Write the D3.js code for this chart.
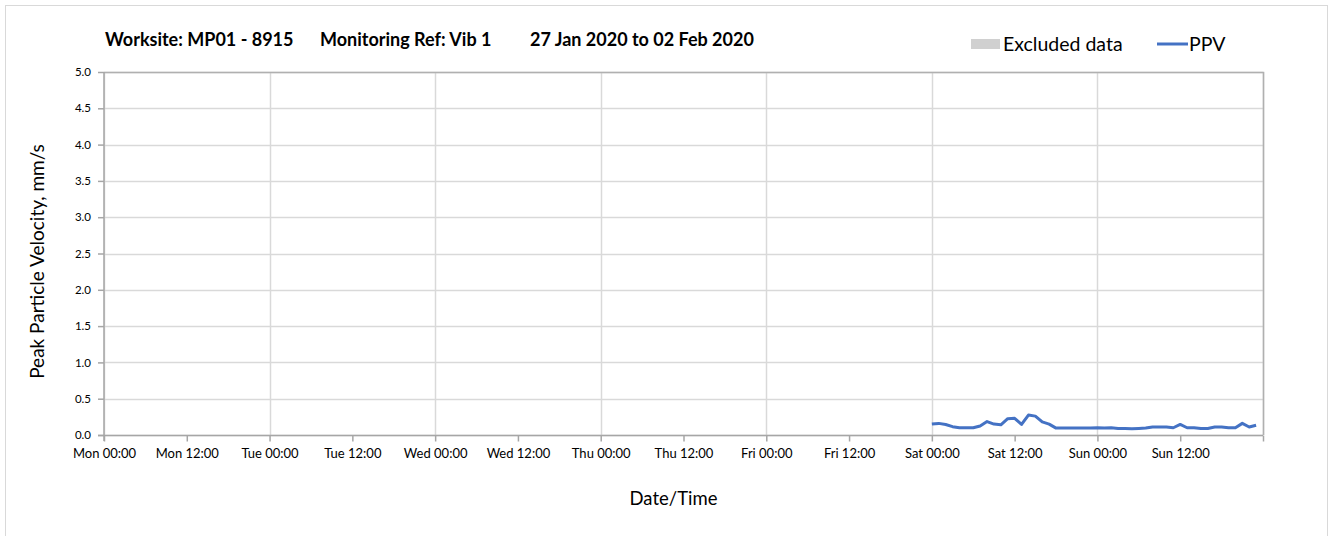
<!DOCTYPE html>
<html>
<head>
<meta charset="utf-8">
<script src="https://cdn.jsdelivr.net/npm/d3@7"></script>
<style>
  body { margin: 0; background: #fff; }
  text { font-family: Lato, "Open Sans", sans-serif; fill: #000; }
</style>
</head>
<body>
<div id="chart"></div>
<script>
// --- Data ---
const titleParts = ["Worksite: MP01 - 8915", "Monitoring Ref: Vib 1", "27 Jan 2020 to 02 Feb 2020"];
const dayNames = ["Mon", "Tue", "Wed", "Thu", "Fri", "Sat", "Sun"];
const yTicks = [0, 0.5, 1, 1.5, 2, 2.5, 3, 3.5, 4, 4.5, 5];
// hourly PPV readings from Sat 00:00 (hours since Mon 00:00 = 120)
const ppvStartHour = 120;
const ppvValues = [
  0.15, 0.16, 0.145, 0.115, 0.10, 0.10, 0.10, 0.125, 0.185, 0.15, 0.14, 0.225,
  0.23, 0.145, 0.275, 0.26, 0.18, 0.15, 0.095, 0.095, 0.095, 0.095, 0.095, 0.095,
  0.10, 0.095, 0.10, 0.09, 0.09, 0.085, 0.09, 0.095, 0.11, 0.11, 0.11, 0.10,
  0.145, 0.10, 0.10, 0.09, 0.09, 0.11, 0.11, 0.10, 0.10, 0.16, 0.11, 0.135
];

const width = 1333, height = 536;
const margin = { left: 104, right: 70, top: 72, bottom: 101 };

const svg = d3.select("#chart").append("svg")
  .attr("width", width)
  .attr("height", height);

// outer frame
svg.append("rect")
  .attr("x", 5.5).attr("y", 5.5)
  .attr("width", 1322).attr("height", 540)
  .attr("fill", "#fff").attr("stroke", "#d9d9d9");

const x = d3.scaleLinear().domain([0, 168]).range([margin.left, width - margin.right]);
const y = d3.scaleLinear().domain([0, 5]).range([height - margin.bottom, margin.top]);

// --- Gridlines ---
const dayHours = d3.range(0, 169, 24);
svg.append("g").selectAll("line.v")
  .data(dayHours)
  .join("line")
  .attr("x1", d => Math.round(x(d)) + 0.5).attr("x2", d => Math.round(x(d)) + 0.5)
  .attr("y1", y(5)).attr("y2", y(0))
  .attr("stroke", "#d9d9d9").attr("stroke-width", 1.5);

svg.append("g").selectAll("line.h")
  .data(yTicks)
  .join("line")
  .attr("x1", x(0)).attr("x2", x(168))
  .attr("y1", d => Math.round(y(d)) + 0.5).attr("y2", d => Math.round(y(d)) + 0.5)
  .attr("stroke", "#d9d9d9").attr("stroke-width", 1.5);

// plot border top/right
svg.append("path")
  .attr("d", `M${x(0)},${Math.round(y(5)) + 0.5}H${Math.round(x(168)) + 0.5}V${y(0)}`)
  .attr("fill", "none").attr("stroke", "#b0b0b0").attr("stroke-width", 1.5);

// --- Axes ---
const xAxis = d3.axisBottom(x)
  .tickValues(d3.range(0, 169, 12))
  .tickSize(6)
  .tickPadding(5)
  .tickFormat(d => d >= 168 ? "" : `${dayNames[Math.floor(d / 24)]} ${d % 24 === 0 ? "00" : "12"}:00`);

const gx = svg.append("g")
  .attr("transform", `translate(0,${Math.round(y(0)) + 0.5})`)
  .call(xAxis);
gx.select(".domain").attr("stroke", "#a6a6a6").attr("stroke-width", 1.5).attr("d", `M${x(0) - 6},0H${x(168)}`);
gx.selectAll(".tick line").attr("stroke", "#a6a6a6").attr("stroke-width", 1.5);
gx.selectAll(".tick text").attr("font-size", 13).attr("fill", "#000").attr("dy", "0.85em");

const yAxis = d3.axisLeft(y)
  .tickValues(yTicks)
  .tickSize(6)
  .tickPadding(7)
  .tickFormat(d3.format(".1f"));

const gy = svg.append("g")
  .attr("transform", `translate(${x(0)},0)`)
  .call(yAxis);
gy.select(".domain").attr("stroke", "#a6a6a6").attr("stroke-width", 1.5).attr("d", `M0,${y(5)}V${y(0) + 6}`);
gy.selectAll(".tick line").attr("stroke", "#a6a6a6").attr("stroke-width", 1.5);
gy.selectAll(".tick text").attr("font-size", 11.5).attr("fill", "#000");

// --- PPV line ---
const line = d3.line()
  .x((d, i) => x(ppvStartHour + i))
  .y(d => y(d));

svg.append("path")
  .datum(ppvValues)
  .attr("d", line)
  .attr("fill", "none")
  .attr("stroke", "#4472c4")
  .attr("stroke-width", 3)
  .attr("stroke-linejoin", "round");

// --- Titles ---
const titleX = [105, 320, 530];
svg.append("g").selectAll("text")
  .data(titleParts)
  .join("text")
  .attr("x", (d, i) => titleX[i])
  .attr("y", 46)
  .attr("font-size", 18)
  .attr("font-weight", "bold")
  .text(d => d);

svg.append("text")
  .attr("x", (x(0) + x(168)) / 2 - 10)
  .attr("y", 505)
  .attr("text-anchor", "middle")
  .attr("font-size", 18.5)
  .attr("fill", "#222")
  .text("Date/Time");

svg.append("text")
  .attr("transform", `translate(44,${(y(0) + y(5)) / 2 + 8}) rotate(-90)`)
  .attr("text-anchor", "middle")
  .attr("font-size", 19)
  .attr("fill", "#222")
  .text("Peak Particle Velocity, mm/s");

// --- Legend ---
const legend = svg.append("g");
legend.append("rect")
  .attr("x", 971).attr("y", 39).attr("width", 29).attr("height", 10)
  .attr("fill", "#d0d0d0");
legend.append("text")
  .attr("x", 1003).attr("y", 51)
  .attr("font-size", 19.5).attr("fill", "#222")
  .text("Excluded data");
legend.append("line")
  .attr("x1", 1157).attr("x2", 1188).attr("y1", 44).attr("y2", 44)
  .attr("stroke", "#4472c4").attr("stroke-width", 3);
legend.append("text")
  .attr("x", 1189).attr("y", 51)
  .attr("font-size", 19.5).attr("fill", "#222")
  .text("PPV");
</script>
</body>
</html>
